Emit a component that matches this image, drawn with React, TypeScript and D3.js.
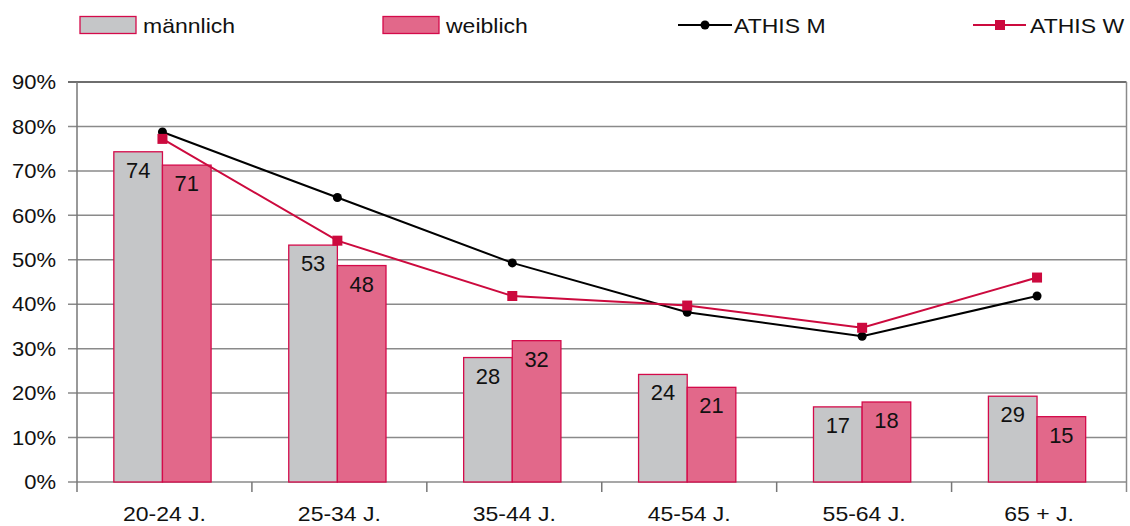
import React from "react";
import * as d3 from "d3";

const categories = ["20-24 J.", "25-34 J.", "35-44 J.", "45-54 J.", "55-64 J.", "65 + J."];
const maleValues = [74.3, 53.3, 28.0, 24.2, 16.9, 19.3];
const femaleValues = [71.3, 48.7, 31.8, 21.3, 18.0, 14.7];
const maleLabels = ["74", "53", "28", "24", "17", "29"];
const femaleLabels = ["71", "48", "32", "21", "18", "15"];
const athisM = [78.75, 64.0, 49.3, 38.2, 32.8, 41.85];
const athisW = [77.2, 54.3, 41.85, 39.7, 34.7, 46.0];
const yTicks = [0, 10, 20, 30, 40, 50, 60, 70, 80, 90];

const W = 1130;
const H = 526;
const left = 77;
const right = 1126.5;
const top = 82;
const bottom = 482;

const GRAY = "#c5c6c8";
const PINK = "#e2688a";
const EDGE = "#d40a4a";
const RED = "#cc0a3e";
const FONT = "Liberation Sans, Arial, sans-serif";

function T({ x, y, anchor = "start", size = 20, sx = 1.15, dy, children }: any) {
  return (
    <g transform={`translate(${x},${y}) scale(${sx},1)`}>
      <text x={0} y={0} dy={dy} textAnchor={anchor} fontSize={size} fill="#111">
        {children}
      </text>
    </g>
  );
}

export default function App() {
  const x = d3.scaleBand<string>().domain(categories).range([left, right]);
  const y = d3.scaleLinear().domain([0, 90]).range([bottom, top]);
  const bw = x.bandwidth() * 0.278;
  const cx = (c: string) => (x(c) as number) + x.bandwidth() / 2 - 2;
  const lineGen = d3
    .line<number>()
    .x((_, i) => cx(categories[i]))
    .y((d) => y(d));

  return (
    <svg width={W} height={H} style={{ position: "absolute", left: 0, top: 0, background: "#fff" }} fontFamily={FONT}>
      {yTicks.map((t) => (
        <g key={t}>
          <line x1={left - 9} x2={right} y1={y(t)} y2={y(t)} stroke={t === 90 ? "#6e6e6e" : "#8a8a8a"} strokeWidth={t === 90 ? 2 : 1.5} />
          <T x={56} y={y(t)} dy="0.36em" anchor="end" sx={1.1}>
            {t}%
          </T>
        </g>
      ))}
      <line x1={left} x2={left} y1={top} y2={bottom + 10} stroke="#777" strokeWidth={1.5} />
      <line x1={right} x2={right} y1={top} y2={bottom + 10} stroke="#8a8a8a" strokeWidth={1.5} />
      {categories.slice(1).map((c) => (
        <line key={c} x1={x(c) as number} x2={x(c) as number} y1={bottom} y2={bottom + 10} stroke="#777" strokeWidth={1.5} />
      ))}
      {categories.map((c, i) => (
        <g key={c}>
          <rect x={cx(c) - bw} y={y(maleValues[i])} width={bw} height={bottom - y(maleValues[i])} fill={GRAY} stroke={EDGE} strokeWidth={1.3} />
          <rect x={cx(c)} y={y(femaleValues[i])} width={bw} height={bottom - y(femaleValues[i])} fill={PINK} stroke={EDGE} strokeWidth={1.3} />
          <T x={cx(c) - bw / 2} y={y(maleValues[i]) + 26} anchor="middle" size={21.5} sx={1.02}>
            {maleLabels[i]}
          </T>
          <T x={cx(c) + bw / 2} y={y(femaleValues[i]) + 26} anchor="middle" size={21.5} sx={1.02}>
            {femaleLabels[i]}
          </T>
          <T x={cx(c) + 2} y={521} anchor="middle">
            {c}
          </T>
        </g>
      ))}
      <path d={lineGen(athisM) || ""} fill="none" stroke="#000" strokeWidth={2} />
      {athisM.map((v, i) => (
        <circle key={i} cx={cx(categories[i])} cy={y(v)} r={4.5} fill="#000" />
      ))}
      <path d={lineGen(athisW) || ""} fill="none" stroke={RED} strokeWidth={2} />
      {athisW.map((v, i) => (
        <rect key={i} x={cx(categories[i]) - 5} y={y(v) - 5} width={10} height={10} fill={RED} />
      ))}
      <rect x={80} y={16.5} width={56} height={17} fill={GRAY} stroke={EDGE} strokeWidth={1.3} />
      <T x={143} y={33}>männlich</T>
      <rect x={383} y={16.5} width={56} height={17} fill={PINK} stroke={EDGE} strokeWidth={1.3} />
      <T x={446} y={33}>weiblich</T>
      <line x1={678} x2={732} y1={25} y2={25} stroke="#000" strokeWidth={2} />
      <circle cx={705} cy={25} r={4.5} fill="#000" />
      <T x={734} y={33}>ATHIS M</T>
      <line x1={973} x2={1026} y1={25} y2={25} stroke={RED} strokeWidth={2} />
      <rect x={995} y={20} width={10} height={10} fill={RED} />
      <T x={1030} y={33}>ATHIS W</T>
    </svg>
  );
}
